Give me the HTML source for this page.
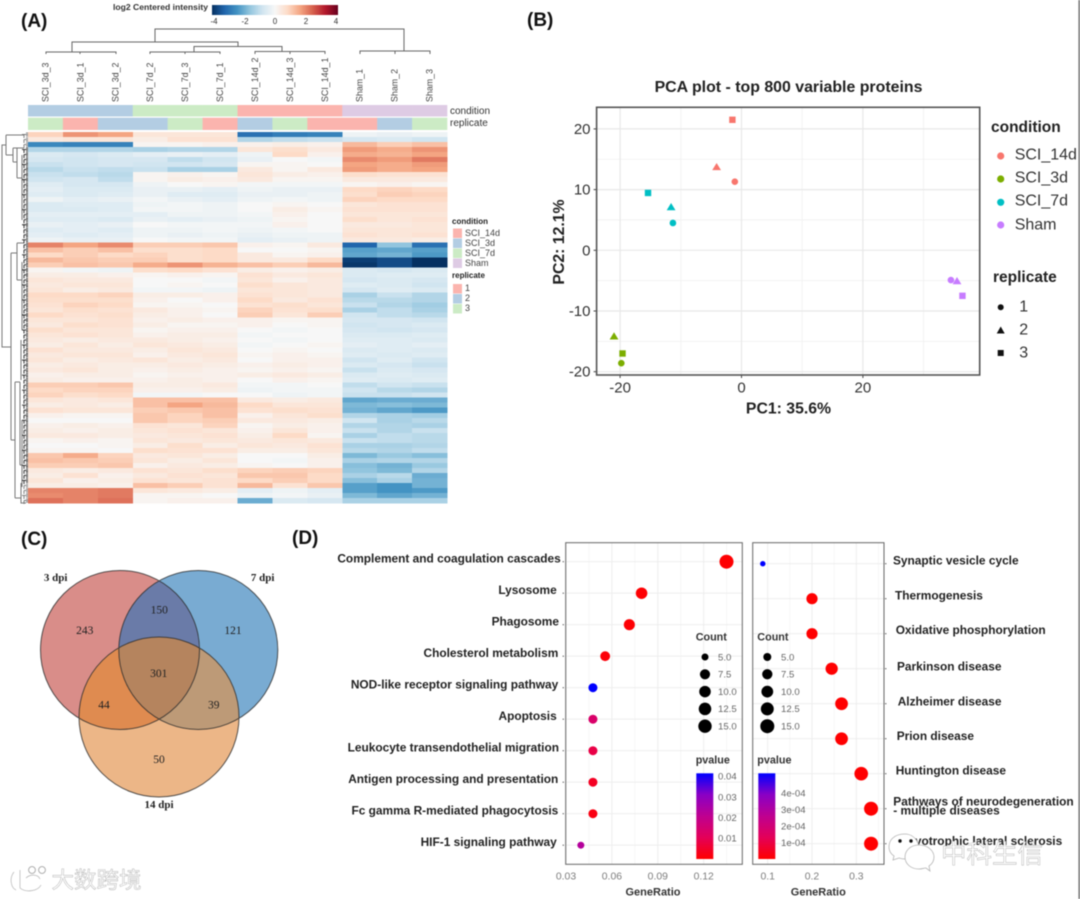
<!DOCTYPE html>
<html lang="en">
<head>
<meta charset="utf-8">
<title>Proteomics figure panels A-D</title>
<style>
html,body{margin:0;padding:0;background:#fff;width:1080px;height:899px;overflow:hidden}
svg{display:block;filter:blur(0.4px)}
text{font-family:"Liberation Sans","Noto Sans CJK SC",sans-serif}
.serif{font-family:"Liberation Serif",serif}
.panel{font-size:19px;font-weight:bold;fill:#111}
.wm{font-family:"Noto Sans CJK SC","Liberation Sans",sans-serif;fill:#fff;stroke:#b0b0b0;stroke-width:.45}
</style>
</head>
<body>
<svg id="fig" xmlns="http://www.w3.org/2000/svg" width="1080" height="899" viewBox="0 0 1080 899">
  <rect x="0" y="0" width="1080" height="899" fill="#fff"/>
  <rect x="1078.4" y="0" width="1.6" height="899" fill="#777"/>
  <text class="panel" x="21" y="27">(A)</text>
  <text class="panel" x="527" y="26">(B)</text>
  <text class="panel" x="21" y="545">(C)</text>
  <text class="panel" x="292" y="544">(D)</text>

  <defs>
    <linearGradient id="heatScale" x1="0" x2="1" y1="0" y2="0">
      <stop offset="0" stop-color="#053061"/><stop offset=".1" stop-color="#2166ac"/><stop offset=".2" stop-color="#4393c3"/><stop offset=".3" stop-color="#92c5de"/><stop offset=".4" stop-color="#d1e5f0"/><stop offset=".5" stop-color="#f7f7f7"/><stop offset=".6" stop-color="#fddbc7"/><stop offset=".7" stop-color="#f4a582"/><stop offset=".8" stop-color="#d6604d"/><stop offset=".9" stop-color="#b2182b"/><stop offset="1" stop-color="#67001f"/>
    </linearGradient>
    <linearGradient id="pGrad" x1="0" x2="0" y1="1" y2="0">
      <stop offset="0" stop-color="#ff0000"/><stop offset=".25" stop-color="#e40058"/><stop offset=".5" stop-color="#bf0090"/><stop offset=".75" stop-color="#8a00c5"/><stop offset="1" stop-color="#0000ff"/>
    </linearGradient>
    <clipPath id="clipR"><circle cx="120" cy="650" r="79.5"/></clipPath>
    <clipPath id="clipB"><circle cx="198.3" cy="650" r="79.5"/></clipPath>
    <clipPath id="clipO"><circle cx="159" cy="717" r="80"/></clipPath>
  </defs>

  <!-- heatmap legend -->
  <g>
    <text x="208" y="10" text-anchor="end" font-size="8.6" font-weight="bold" fill="#333">log2 Centered intensity</text>
    <rect x="212" y="5" width="126" height="10" fill="url(#heatScale)"/>
    <text x="214" y="24" text-anchor="middle" font-size="8" fill="#333">-4</text>
    <text x="245" y="24" text-anchor="middle" font-size="8" fill="#333">-2</text>
    <text x="275" y="24" text-anchor="middle" font-size="8" fill="#333">0</text>
    <text x="306" y="24" text-anchor="middle" font-size="8" fill="#333">2</text>
    <text x="336" y="24" text-anchor="middle" font-size="8" fill="#333">4</text>
  </g>
  <path d="M155 42V29H404V51M72 52V42H238V46M194 52V46.5H282V51.5M46 54V52H116V54M80 54V52M150 54V52H220V54M185 54V52M255 54V51.5H325V54M290 54V51.5M360 54V51H430V54M395 54V51" fill="none" stroke="#666" stroke-width="1"/>
  <text x="450" y="114" font-size="10" fill="#333">condition</text>
  <text x="450" y="126" font-size="10" fill="#333">replicate</text>
  <g id="heatAnn"></g>
  <g id="heatColLabels"></g>
  <g id="rowDendro" fill="none" stroke="#777" stroke-width="1">
    <path d="M11 347H2V145H6M6 135V155M6 135H24M6 155H13M13 148V162M13 148H24M13 162H17M17 148V178M17 178H22M22 155V220M11 253V440M11 253H17M17 243V280M17 243H24M17 280H22M22 262V330M11 440H15M15 382V498M15 382H20M15 498H21M20 382V465M20 465H22M22 420V487M21 483V503H26M21 340V380"/>
  </g>
  <g id="heatCells" shape-rendering="crispEdges"></g>
  <g>
    <text x="452" y="224" font-size="8" font-weight="bold" fill="#222">condition</text>
    <rect x="453" y="228.5" width="9" height="9.5" fill="#fbb4ae"/>
    <rect x="453" y="238.5" width="9" height="9.5" fill="#b3cde3"/>
    <rect x="453" y="248.5" width="9" height="9.5" fill="#ccebc5"/>
    <rect x="453" y="258.5" width="9" height="9.5" fill="#decbe4"/>
    <text x="465" y="236" font-size="9" fill="#444">SCI_14d</text>
    <text x="465" y="246" font-size="9" fill="#444">SCI_3d</text>
    <text x="465" y="256" font-size="9" fill="#444">SCI_7d</text>
    <text x="465" y="266" font-size="9" fill="#444">Sham</text>
    <text x="452" y="278" font-size="8" font-weight="bold" fill="#222">replicate</text>
    <rect x="453" y="284" width="9" height="9.5" fill="#fbb4ae"/>
    <rect x="453" y="294" width="9" height="9.5" fill="#b3cde3"/>
    <rect x="453" y="304" width="9" height="9.5" fill="#ccebc5"/>
    <text x="465" y="291" font-size="9" fill="#444">1</text>
    <text x="465" y="301" font-size="9" fill="#444">2</text>
    <text x="465" y="311" font-size="9" fill="#444">3</text>
  </g>

  <!-- PCA -->
  <text x="788.5" y="92" text-anchor="middle" font-size="15.9" font-weight="bold" fill="#222">PCA plot - top 800 variable proteins</text>
  <g id="pca"></g>
  <text x="788.5" y="413.5" text-anchor="middle" font-size="15.8" font-weight="bold" fill="#222">PC1: 35.6%</text>
  <text transform="translate(564,242) rotate(-90)" text-anchor="middle" font-size="15.8" font-weight="bold" fill="#222">PC2: 12.1%</text>
  <g>
    <text x="991" y="132" font-size="15.5" font-weight="bold" fill="#222">condition</text>
    <circle cx="1000.7" cy="156" r="3.6" fill="#f8766d"/>
    <circle cx="1000.7" cy="179" r="3.6" fill="#7cae00"/>
    <circle cx="1000.7" cy="202.3" r="3.6" fill="#00bfc4"/>
    <circle cx="1000.7" cy="225" r="3.6" fill="#c77cff"/>
    <text x="1014.7" y="159.5" font-size="16" fill="#333">SCI_14d</text>
    <text x="1014.7" y="182.5" font-size="16" fill="#333">SCI_3d</text>
    <text x="1014.7" y="205.5" font-size="16" fill="#333">SCI_7d</text>
    <text x="1014.7" y="229.5" font-size="16" fill="#333">Sham</text>
    <text x="993" y="282" font-size="15.5" font-weight="bold" fill="#222">replicate</text>
    <circle cx="1000.7" cy="307.3" r="3" fill="#111"/>
    <path d="M996.7 333.5L1000.7 326.5L1004.7 333.5Z" fill="#111"/>
    <rect x="997.7" y="350" width="6" height="6" fill="#111"/>
    <text x="1019.3" y="311.5" font-size="16" fill="#333">1</text>
    <text x="1019.3" y="334.5" font-size="16" fill="#333">2</text>
    <text x="1019.3" y="357.5" font-size="16" fill="#333">3</text>
  </g>

  <!-- Venn -->
  <g>
    <circle cx="120" cy="650" r="79.5" fill="#d98d89"/>
    <circle cx="198.3" cy="650" r="79.5" fill="#79abd2"/>
    <circle cx="159" cy="717" r="80" fill="#ecb687"/>
    <circle cx="198.3" cy="650" r="79.5" fill="#6a7ba8" clip-path="url(#clipR)"/>
    <circle cx="159" cy="717" r="80" fill="#df8b50" clip-path="url(#clipR)"/>
    <circle cx="159" cy="717" r="80" fill="#bd9a77" clip-path="url(#clipB)"/>
    <g clip-path="url(#clipR)"><circle cx="159" cy="717" r="80" fill="#b5845e" clip-path="url(#clipB)"/></g>
    <g fill="none" stroke="#2c2c2c" stroke-width="1" opacity=".8">
      <circle cx="120" cy="650" r="79.5"/><circle cx="198.3" cy="650" r="79.5"/><circle cx="159" cy="717" r="80"/>
    </g>
    <g text-anchor="middle" font-size="11.5" fill="#222">
      <text class="serif" x="84.7" y="634">243</text>
      <text class="serif" x="159.3" y="613.7">150</text>
      <text class="serif" x="233" y="634">121</text>
      <text class="serif" x="158.7" y="677">301</text>
      <text class="serif" x="104" y="708.7">44</text>
      <text class="serif" x="213.7" y="708.7">39</text>
      <text class="serif" x="159" y="763">50</text>
    </g>
    <g text-anchor="middle" font-size="11" font-weight="bold" fill="#222">
      <text class="serif" x="55.7" y="581">3 dpi</text>
      <text class="serif" x="262.7" y="581">7 dpi</text>
      <text class="serif" x="159" y="808">14 dpi</text>
    </g>
  </g>

  <!-- Dot plots -->
  <g id="dotLeft"></g>
  <g id="dotRight"></g>

  <!-- watermarks -->
  <g>
    <path d="M14 872C9 878 11 888 16 890M20 870V888C26 893 38 891 41 885M26 878C30 874 38 874 40 879" fill="none" stroke="#fff" stroke-width="3.4"/>
    <path d="M14 872C9 878 11 888 16 890M20 870V888C26 893 38 891 41 885M26 878C30 874 38 874 40 879" fill="none" stroke="#b5b5b5" stroke-width=".7"/>
    <circle cx="32" cy="870" r="3.4" fill="#fff" stroke="#a5a5a5" stroke-width=".9"/>
    <circle cx="42" cy="870" r="3.4" fill="#fff" stroke="#a5a5a5" stroke-width=".9"/>
    <text class="wm" x="51.5" y="888" font-size="22.5">大数跨境</text>
  </g>
  <g>
    <path d="M905 834C893 834 889 841 889 847C889 851 891 854 894 856L893 860L899 858C905 860 912 859 917 853C922 845 915 834 905 834Z" fill="#fff" stroke="#b5b5b5" stroke-width=".8"/>
    <path d="M919 845C910 845 905 851 905 857C905 864 911 869 919 869C922 869 924 868 926 868L930 871L929 866C932 864 934 861 934 857C934 851 928 845 919 845Z" fill="#fff" stroke="#b5b5b5" stroke-width=".8"/>
    <circle cx="900" cy="841" r="1.7" fill="#111"/>
    <circle cx="911" cy="841" r="1.7" fill="#111"/>
    <text class="wm" x="941" y="863" font-size="25.5">中科生信</text>
  </g>
</svg>

<script>
/* ---------- Heatmap data ---------- */
const sampleNames = ["SCI_3d_3","SCI_3d_1","SCI_3d_2","SCI_7d_2","SCI_7d_3","SCI_7d_1","SCI_14d_2","SCI_14d_3","SCI_14d_1","Sham_1","Sham_2","Sham_3"];
const sampleCondition = ["3d","3d","3d","7d","7d","7d","14d","14d","14d","Sham","Sham","Sham"];
const sampleReplicate = [3,1,2,2,3,1,2,3,1,1,2,3];
const heatValues = [
[.9,1.8,1.6,.5,.5,.5,-3,-2.8,-2.7,-.2,-.3,-.2],
[.4,.5,.5,.3,.6,.6,-1.2,-1,-.9,-.7,-.6,-.8],
[-2.6,-2.7,-2.7,.1,.1,.2,.2,.3,.2,1.3,1,1.2],
[-1.2,-1.2,-1.2,-1.3,-1.2,-1.2,.5,.7,.4,1.7,1.5,1.8],
[-.6,-.7,-.6,-.4,-.3,-.4,-.2,.8,.2,1.5,1.4,1.6],
[-.7,-.8,-.7,-.7,-1,-.8,-.3,0,-.1,1.9,1.7,2.1],
[-.9,-.8,-.7,-.8,-.8,-.7,.1,.1,0,1.6,1.5,1.7],
[-1.1,-.9,-1,-.9,-1.3,-1.3,.4,.1,.4,1.7,1.5,1.6],
[-.9,-1,-1.1,.1,.2,.1,.5,.3,.2,.7,.6,.6],
[-.8,-.7,-1,.1,.3,.2,.4,.1,.1,.4,.4,.4],
[-.5,-.7,-.7,-.2,0,.1,-.1,-.1,-.1,.1,.2,.1],
[-.4,-.6,-.6,-.3,-.3,-.4,-.2,-.3,-.3,.8,.9,.8],
[-.5,-.6,-.5,-.3,-.5,-.5,-.3,-.3,-.2,.7,1,.9],
[-.2,-.4,-.3,-.1,-.3,-.4,-.2,-.1,-.2,.9,.8,.8],
[-.6,-.5,-.5,-.2,-.1,-.2,0,.1,0,.5,.6,.6],
[-.6,-.6,-.5,-.1,-.1,-.2,0,.3,.1,.6,.6,.6],
[-.4,-.4,-.4,-.4,-.2,-.2,-.1,.2,0,.5,.5,.5],
[-.5,-.5,-.6,-.3,-.4,-.3,-.2,.1,0,.7,.5,.6],
[-.3,-.4,-.3,0,-.1,-.1,-.1,.2,0,.4,.4,.5],
[-.5,-.4,-.5,-.2,-.2,-.1,-.2,-.1,0,.5,.5,.5],
[-.4,-.5,-.4,-.2,-.3,-.2,-.3,-.2,-.2,.6,.5,.6],
[-.2,-.3,-.3,0,-.1,-.1,-.4,-.3,-.2,.4,.4,.3],
[2,1.6,1.9,1,1,1.1,.2,.1,.4,-3.2,-1.6,-3],
[1.2,1,1.2,.7,.7,.8,0,0,.1,-2.2,-2.1,-2.2],
[.8,1,.8,.9,.7,.8,.4,.1,.2,-2.1,-1.9,-2.3],
[1.3,1.1,1,1,.7,.8,.4,.4,.8,-3.8,-3.6,-4],
[1,1.2,1.1,1.5,1.8,1.4,1.2,1,1.3,-3.9,-3.6,-4],
[.1,-.1,-.2,.7,.8,.6,.3,.2,.3,-.6,-.7,-.6],
[.3,.3,.2,.1,.2,.1,.6,.4,.5,-.6,-.5,-.5],
[.5,.4,.4,0,0,-.1,.5,.2,.4,-.7,-.6,-.7],
[.4,.5,.5,0,.1,0,.7,.5,.4,-.5,-.6,-.8],
[.5,.3,.4,-.1,-.1,-.2,.5,.5,.4,-.7,-.5,-.6],
[.8,.8,.9,.3,.3,.2,.6,.5,.4,-1.3,-.9,-1.2],
[.7,.7,.7,.2,0,.2,.8,.4,.6,-1.1,-1.1,-1.2],
[.6,.9,.8,.1,.1,0,.6,.7,.5,-.9,-1.2,-1.4],
[.5,.7,.6,.4,.2,.1,.9,.6,.7,-1.3,-1,-1.3],
[.8,.6,.7,.3,.2,0,1,.5,1,-.8,-1,-1.1],
[.5,.5,.6,.2,.3,.2,.2,.1,.1,-.7,-.7,-.8],
[.4,.7,.6,.3,.1,.1,.2,0,.1,-.8,-.7,-.6],
[.7,.5,.5,.1,.2,.2,0,-.1,0,-.7,-.8,-.7],
[.5,.6,.5,.2,.3,.3,-.1,0,0,-.6,-.6,-.5],
[.4,.3,.4,.4,.3,.2,0,-.1,0,-.5,-.5,-.6],
[.3,.5,.3,.5,.4,.3,-.1,0,.1,-.4,-.5,-.4],
[.6,.4,.4,.3,.5,.4,0,.1,0,-.6,-.5,-.6],
[.4,.5,.5,.2,.4,.5,.1,.2,.1,-.5,-.6,-.5],
[.5,.3,.4,.5,.3,.4,0,.2,.2,-.8,-.5,-.8],
[.3,.4,.3,.3,.4,.3,.2,.3,.2,-.6,-.7,-.9],
[.4,.5,.3,.2,.3,.2,.1,.2,.1,-.9,-.6,-.7],
[.2,.3,.3,.1,.2,.2,.3,.4,.3,-.6,-.5,-.6],
[.3,.2,.2,.2,.3,.2,0,.2,.1,-.5,-.6,-.5],
[1,1,1.1,.3,.3,.4,-.1,-.1,0,-1,-.8,-.9],
[.8,.9,.9,.2,.2,.3,-.2,-.1,-.1,-.8,-1.1,-1.2],
[.9,.7,.8,-.1,-.1,0,0,-.2,-.1,-.9,-.9,-.8],
[.5,.4,.5,1.2,1.2,1.2,.4,.3,.4,-2.1,-2,-2],
[.3,.4,.3,1.2,1.6,1.3,.8,.5,.5,-1.8,-1.7,-1.8],
[.6,.5,.5,1,1.1,1.2,.6,.7,.6,-1.9,-2.1,-2.3],
[.2,.1,.1,1.1,.9,1.2,.2,.5,.7,-1.2,-1.3,-1.4],
[0,0,0,1.1,.9,1,.4,.4,.3,-.8,-1.3,-1.1],
[.2,.3,.2,.6,.5,.9,.1,.3,.2,-1.2,-1.2,-1.3],
[.3,.2,.3,.5,.6,.5,.2,.5,.2,-.9,-1.2,-.9],
[.4,.4,.3,.4,.5,.6,.3,.8,.1,-1.3,-1,-1.1],
[.1,.2,.1,.5,.4,.5,.4,.5,.4,-.9,-1,-1.1],
[0,0,.1,.3,.7,.3,.5,.4,.6,-1.3,-1.3,-1.2],
[.1,.1,0,.7,.6,.6,.3,.3,.5,-1.1,-1.2,-1],
[1.1,1.5,.9,.4,.5,.3,0,0,.3,-1.8,-1.5,-1.7],
[1.2,1.1,1,.5,.3,.5,0,-.1,.2,-1.3,-1.2,-1.2],
[1,1,1.1,.2,.4,.3,.1,0,.2,-1.7,-1.9,-1.5],
[.4,.3,.4,.6,.5,.7,.9,1,.9,-1.6,-1.8,-1.2],
[.3,.6,.2,.4,.6,.5,1.1,1.1,.8,-1.3,-1.1,-2],
[.5,.2,.3,.6,.5,.6,.8,1,.8,-1.7,-1.3,-1.9],
[.3,.3,.2,1.2,1,.6,1.3,.6,1.1,-2.2,-2.4,-1.9],
[2,2,2.1,.5,.4,.3,-.4,-.2,-.4,-2.2,-2.4,-2.3],
[1.9,2,2.1,.1,.1,0,-.2,-.1,-.3,-1.8,-2.1,-1.9],
[2.2,2,2.2,.1,.2,.2,-2,-.6,-.7,-1.3,-1.3,-1.3]
];

/* ---------- PCA data ---------- */
const pcaX14d = [-1.1,-4.1,-1.5];
const pcaY14d = [11.3,13.7,21.5];
const pcaX3d = [-19.8,-21,-19.6];
const pcaY3d = [-18.6,-14.2,-17];
const pcaX7d = [-11.3,-11.6,-15.4];
const pcaY7d = [4.5,7.1,9.45];
const pcaXSham = [34.5,35.5,36.4];
const pcaYSham = [-4.9,-5.1,-7.5];
const pcaXTicks = ["-20","0","20"];
const pcaYTicks = ["20","10","0","-10","-20"];

/* ---------- Dot plot data ---------- */
const leftTerms = ["Complement and coagulation cascades","Lysosome","Phagosome","Cholesterol metabolism","NOD-like receptor signaling pathway","Apoptosis","Leukocyte transendothelial migration","Antigen processing and presentation","Fc gamma R-mediated phagocytosis","HIF-1 signaling pathway"];
const leftRatio = [.1349,.0794,.0714,.0556,.0476,.0476,.0476,.0476,.0476,.0397];
const leftCount = [17,10,9,7,6,6,6,6,6,5];
const leftP = [.0002,.0003,.0005,.001,.04,.013,.008,.004,.002,.022];
const leftXTicks = ["0.03","0.06","0.09","0.12"];
const leftPTicks = ["0.04","0.03","0.02","0.01"];
const rightTerms = ["Synaptic vesicle cycle","Thermogenesis","Oxidative phosphorylation","Parkinson disease","Alzheimer disease","Prion disease","Huntington disease","Pathways of neurodegeneration","Amyotrophic lateral sclerosis"];
const rightRatio = [.0889,.2,.2,.2444,.2667,.2667,.3111,.3333,.3333];
const rightCount = [4,9,9,11,12,12,14,15,15];
const rightP = [.0005,.000002,.000002,.000001,.000001,.000001,.000001,.000001,.000001];
const rightXTicks = ["0.1","0.2","0.3"];
const rightPTicks = ["4e-04","3e-04","2e-04","1e-04"];
const countLegend = ["5.0","7.5","10.0","12.5","15.0"];

/* ---------- Helpers ---------- */
const NS = "http://www.w3.org/2000/svg";
function mk(parent, tag, attrs, txt){
  const el = document.createElementNS(NS, tag);
  for (const k in attrs) el.setAttribute(k, attrs[k]);
  if (txt !== undefined) el.textContent = txt;
  parent.appendChild(el);
  return el;
}
const rdbu = ["#053061","#2166ac","#4393c3","#92c5de","#d1e5f0","#f7f7f7","#fddbc7","#f4a582","#d6604d","#b2182b","#67001f"];
const pRamp = ["#ff0000","#e40058","#bf0090","#8a00c5","#0000ff"];
function hexRgb(h){return [1,3,5].map(function(i){return parseInt(h.substr(i,2),16);});}
function rampColor(ramp, frac){
  const t = Math.max(0, Math.min(1, frac)) * (ramp.length - 1);
  const i = Math.min(ramp.length - 2, Math.floor(t)), f = t - i;
  const a = hexRgb(ramp[i]), b = hexRgb(ramp[i + 1]);
  return "rgb(" + a.map(function(c, k){return Math.round(c + (b[k] - c) * f);}).join(",") + ")";
}
function heatColor(v){return rampColor(rdbu, (v + 4) / 8);}
function pColor(t){return rampColor(pRamp, t);}

/* ---------- Draw heatmap ---------- */
const hmLeft = 28, hmTop = 132, hmW = 419, hmH = 371;
const colW = hmW / sampleNames.length;
const rowH = hmH / heatValues.length;
const condColor = {"14d":"#fbb4ae","3d":"#b3cde3","7d":"#ccebc5","Sham":"#decbe4"};
const repColor = {1:"#fbb4ae",2:"#b3cde3",3:"#ccebc5"};
const heatG = document.getElementById("heatCells");
heatValues.forEach(function(row, r){
  row.forEach(function(v, c){
    const cell = mk(heatG, "rect", {x: hmLeft + c * colW, y: hmTop + r * rowH, width: colW + .3, height: rowH + .3, fill: heatColor(v)});
    
    
  });
});
const annG = document.getElementById("heatAnn");
const colLabG = document.getElementById("heatColLabels");
sampleNames.forEach(function(name, c){
  const x = hmLeft + c * colW;
  const a1 = mk(annG, "rect", {x: x, y: 105, width: colW + .3, height: 11.5, fill: condColor[sampleCondition[c]]});
  
  
  const a2 = mk(annG, "rect", {x: x, y: 117.7, width: colW + .3, height: 12.3, fill: repColor[sampleReplicate[c]]});
  
  
  const t = mk(colLabG, "text", {transform: "translate(" + (x + colW / 2 + 3) + ",102) rotate(-90)", "font-size": 8.9, fill: "#444"}, name);
  
  
});
const dendro = document.getElementById("rowDendro");
heatValues.forEach(function(row, r){
  const y = hmTop + (r + .5) * rowH;
  const leaf = mk(dendro, "path", {d: "M" + (r % 3 === 0 ? 22 : 24) + " " + y + "H28M24 " + y + "V" + (y + rowH * .7) + "M26 " + (y - 1.6) + "H28M26 " + (y + 1.6) + "H28", stroke: r < 3 || r > 69 ? "#777" : "#222", "stroke-width": .9});
  
  
});

/* ---------- Draw PCA ---------- */
const pcaG = document.getElementById("pca");
const pcaBox = {l: 596.6, r: 979.7, t: 107.3, b: 375};
function pcaSX(v){return 741.5 + v * 6.07;}
function pcaSY(v){return 250.3 - v * 6.07;}
[-10, 10, 30].forEach(function(v){
  const g = mk(pcaG, "line", {x1: pcaSX(v), x2: pcaSX(v), y1: pcaBox.t, y2: pcaBox.b, stroke: "#f0f0f0", "stroke-width": .8});
  
  
});
[15, 5, -5, -15].forEach(function(v){
  const g = mk(pcaG, "line", {x1: pcaBox.l, x2: pcaBox.r, y1: pcaSY(v), y2: pcaSY(v), stroke: "#f0f0f0", "stroke-width": .8});
  
  
});
pcaXTicks.forEach(function(lab){
  const v = parseFloat(lab);
  const g = mk(pcaG, "line", {x1: pcaSX(v), x2: pcaSX(v), y1: pcaBox.t, y2: pcaBox.b, stroke: "#e8e8e8", "stroke-width": 1.2});
  
  
  const k = mk(pcaG, "line", {x1: pcaSX(v), x2: pcaSX(v), y1: pcaBox.b, y2: pcaBox.b + 3, stroke: "#444", "stroke-width": 1});
  
  
  const t = mk(pcaG, "text", {x: pcaSX(v), y: 392.5, "text-anchor": "middle", "font-size": 15, fill: "#333"}, lab);
  
  
});
pcaYTicks.forEach(function(lab){
  const v = parseFloat(lab);
  const g = mk(pcaG, "line", {x1: pcaBox.l, x2: pcaBox.r, y1: pcaSY(v), y2: pcaSY(v), stroke: "#e8e8e8", "stroke-width": 1.2});
  
  
  const k = mk(pcaG, "line", {x1: pcaBox.l - 3, x2: pcaBox.l, y1: pcaSY(v), y2: pcaSY(v), stroke: "#444", "stroke-width": 1});
  
  
  const t = mk(pcaG, "text", {x: 590.5, y: pcaSY(v) + 5, "text-anchor": "end", "font-size": 15, fill: "#333"}, lab);
  
  
});
const pcaFrame = mk(pcaG, "rect", {x: pcaBox.l, y: pcaBox.t, width: pcaBox.r - pcaBox.l, height: pcaBox.b - pcaBox.t, fill: "none", stroke: "#555", "stroke-width": 1.6});


function pcaSeries(xs, ys, color, name){
  xs.forEach(function(xv, i){
    const x = pcaSX(xv), y = pcaSY(ys[i]);
    let m;
    if (i === 0) m = mk(pcaG, "circle", {cx: x, cy: y, r: 3.3, fill: color});
    else if (i === 1) m = mk(pcaG, "path", {d: "M" + (x - 4.4) + " " + (y + 3) + "L" + x + " " + (y - 4.2) + "L" + (x + 4.4) + " " + (y + 3) + "Z", fill: color});
    else m = mk(pcaG, "rect", {x: x - 3.2, y: y - 3.2, width: 6.4, height: 6.4, fill: color});
    
    
  });
}
pcaSeries(pcaX14d, pcaY14d, "#f8766d", "pca-point-sci-14d");
pcaSeries(pcaX3d, pcaY3d, "#7cae00", "pca-point-sci-3d");
pcaSeries(pcaX7d, pcaY7d, "#00bfc4", "pca-point-sci-7d");
pcaSeries(pcaXSham, pcaYSham, "#c77cff", "pca-point-sham");

/* ---------- Draw dot plots ---------- */
function drawDotPanel(cfg){
  const g = cfg.g, b = cfg.box;
  function sx(v){return cfg.x0 + (v - cfg.v0) * cfg.k;}
  function rad(c){return cfg.rMin + (7 - cfg.rMin) * Math.sqrt(Math.max(0, c - cfg.cMin) / (cfg.cMax - cfg.cMin));}
  cfg.minor.forEach(function(v){
    const m = mk(g, "line", {x1: sx(v), x2: sx(v), y1: b.t, y2: b.b, stroke: "#f3f3f3", "stroke-width": .7});
    
    
  });
  cfg.ticks.forEach(function(lab){
    const v = parseFloat(lab), x = sx(v);
    const m = mk(g, "line", {x1: x, x2: x, y1: b.t, y2: b.b, stroke: "#ececec", "stroke-width": .9});
    
    
    const t = mk(g, "text", {x: x, y: 879.5, "text-anchor": "middle", "font-size": 10.4, fill: "#7d7d7d"}, lab);
    
    
  });
  cfg.ratio.forEach(function(v, i){
    const y = cfg.y0 + i * cfg.dy;
    const gl = mk(g, "line", {x1: b.l, x2: b.r, y1: y, y2: y, stroke: "#ececec", "stroke-width": .9});
    
    
    const tk = mk(g, "line", {x1: cfg.tickX, x2: cfg.tickX + 1.5, y1: y, y2: y, stroke: "#666", "stroke-width": 1});
    
    
  });
  cfg.ratio.forEach(function(v, i){
    const y = cfg.y0 + i * cfg.dy;
    const d = mk(g, "circle", {cx: sx(v), cy: y, r: rad(cfg.count[i]), fill: pColor(cfg.p[i] / cfg.pMax)});
    
    
  });
  const f = mk(g, "rect", {x: b.l, y: b.t, width: b.r - b.l, height: b.b - b.t, fill: "none", stroke: "#666", "stroke-width": 1});
  
  
  const ax = mk(g, "text", {x: cfg.axisX, y: 895.5, "text-anchor": "middle", "font-size": 11, "font-weight": "bold", fill: "#333"}, "GeneRatio");
  
  
  const ct = mk(g, "text", {x: cfg.legX, y: 640.5, "font-size": 10.8, "font-weight": "bold", fill: "#333"}, "Count");
  
  
  countLegend.forEach(function(lab, i){
    const y = 657 + i * 17.3;
    const c = mk(g, "circle", {cx: cfg.legDotX, cy: y, r: rad(parseFloat(lab)), fill: "#000"});
    
    
    const t = mk(g, "text", {x: cfg.legLabX, y: y + 3.3, "font-size": 9.6, fill: "#666"}, lab);
    
    
  });
  const pt = mk(g, "text", {x: cfg.legX, y: 763.5, "font-size": 10.8, "font-weight": "bold", fill: "#333"}, "pvalue");
  
  
  const bar = mk(g, "rect", {x: cfg.barX, y: 773.3, width: 17, height: 85.7, fill: "url(#pGrad)"});
  
  
  cfg.pTicks.forEach(function(lab){
    const v = parseFloat(lab), y = 859 - v / cfg.pBarMax * 85.7;
    const t = mk(g, "text", {x: cfg.legLabX, y: y + 3.3, "font-size": 9.6, fill: "#666"}, lab);
    
    
  });
}
const leftPanel = document.getElementById("dotLeft");
const rightPanel = document.getElementById("dotRight");
drawDotPanel({g: leftPanel, box: {l: 565.7, r: 742.3, t: 542.7, b: 864.3}, x0: 566, v0: .03, k: 1530, y0: 561.7, dy: 31.5, tickX: 562.5, ratio: leftRatio, count: leftCount, p: leftP, pMax: .04, ticks: leftXTicks, minor: [.045,.075,.105,.135], cMin: 5, cMax: 17, rMin: 3.5, axisX: 653, legX: 695.7, legDotX: 705, legLabX: 718, barX: 696.3, pTicks: leftPTicks, pBarMax: .0415});
drawDotPanel({g: rightPanel, box: {l: 752.7, r: 884, t: 542.7, b: 864.3}, x0: 767.7, v0: .1, k: 443, y0: 563.7, dy: 35, tickX: 885, ratio: rightRatio, count: rightCount, p: rightP, pMax: .0005, ticks: rightXTicks, minor: [.15,.25,.35], cMin: 4, cMax: 15, rMin: 2.7, axisX: 818.3, legX: 757.3, legDotX: 767.3, legLabX: 781, barX: 758.3, pTicks: rightPTicks, pBarMax: .00052});

/* term labels, nudged to match their hand placement in the figure */
const leftLabelEnd = [560.7,556.7,559,558.3,558.3,556.7,559,558.3,558.3,556.7];
leftTerms.forEach(function(term, i){
  const t = mk(leftPanel, "text", {x: leftLabelEnd[i], y: 561.7 + i * 31.5 + .6, "text-anchor": "end", "font-size": 11.9, "font-weight": "bold", fill: "#222"}, term);
  
  
});
const rightLabelStart = [893,895,895.7,897,897.7,896.7,895.7,893.3,895.7];
const rightLabelLift = [3,3,3.7,2.3,2.3,2.7,3,7,2.6];
rightTerms.forEach(function(term, i){
  const t = mk(rightPanel, "text", {x: rightLabelStart[i], y: 563.7 + i * 35 - rightLabelLift[i] + 4, "font-size": 11.9, "font-weight": "bold", fill: "#222"}, term);
  
  
});
const rightExtra = mk(rightPanel, "text", {x: 893.3, y: 814.5, "font-size": 11.9, "font-weight": "bold", fill: "#222"}, "- multiple diseases");


</script>
</body>
</html>
